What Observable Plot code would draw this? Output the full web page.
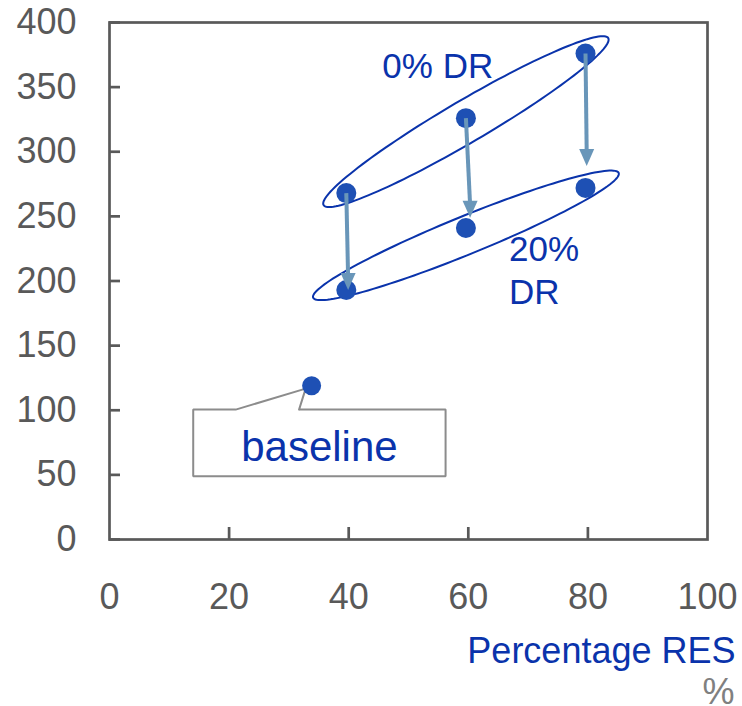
<!DOCTYPE html>
<html>
<head>
<meta charset="utf-8">
<script src="https://cdn.jsdelivr.net/npm/d3@7"></script>
<script src="https://cdn.jsdelivr.net/npm/@observablehq/plot@0.6"></script>
<style>
  html, body { margin: 0; padding: 0; background: #ffffff; }
  #chart { width: 742px; height: 706px; }
</style>
</head>
<body>
<div id="chart"></div>
<script>
// ---------- data ----------
const resLevels = [39.6, 59.6, 79.6];          // Percentage RES of the scenarios
const dr0 = [268, 326, 376];                    // 0% DR
const dr20 = [193, 241, 272];                   // 20% DR
const arrowX2 = [39.9, 60.3, 79.8];             // arrow tip x
const arrowTips = [193, 249, 289];              // arrow tip y
const baselinePoint = [{x: 33.8, y: 119}];
const xTicks = [0, 20, 40, 60, 80, 100];
const yTicks = [0, 50, 100, 150, 200, 250, 300, 350, 400];
const centeredLabels = [{text: "0% DR", x: 54.9, y: 365.7}];
const leftLabels = [
  {text: "20%", x: 66.8, y: 224.5},
  {text: "DR", x: 66.8, y: 190.5}
];
const calloutText = [{text: "baseline", x: 35.1, y: 70.9}];
const calloutOutline = [
  [31.7, 100.5], [56.2, 100.5], [56.2, 49], [14, 49], [14, 100.5],
  [21.1, 100.5], [32.8, 116.7], [31.7, 100.5]
];

// ---------- derived tables ----------
const upper = resLevels.map((x, i) => ({x, y: dr0[i]}));
const lower = resLevels.map((x, i) => ({x, y: dr20[i]}));
const arrows = resLevels.map((x, i) => ({x1: x, y1: dr0[i], x2: arrowX2[i], y2: arrowTips[i]}));
const centroid = pts => [{x: d3.mean(pts, d => d.x), y: d3.mean(pts, d => d.y)}];

// ---------- styles ----------
const axisGray = "#595959";
const dotBlue = "#1e50b4";
const lineBlue = "#0a33ab";
const arrowBlue = "#6996b9";
const font = "'Liberation Sans', Arial, Helvetica, sans-serif";

function ellipseSymbol(a, b, deg) {
  const t = deg * Math.PI / 180;
  return {
    draw(ctx) {
      const n = 144;
      for (let i = 0; i <= n; i++) {
        const p = 2 * Math.PI * i / n;
        const ex = a * Math.cos(p), ey = b * Math.sin(p);
        const x = ex * Math.cos(t) + ey * Math.sin(t);
        const y = -ex * Math.sin(t) + ey * Math.cos(t);
        if (i === 0) ctx.moveTo(x, y); else ctx.lineTo(x, y);
      }
      ctx.closePath();
    }
  };
}
const headSymbol = {
  draw(ctx) {
    ctx.moveTo(0, 0);
    ctx.lineTo(-7.5, -17);
    ctx.lineTo(7.5, -17);
    ctx.closePath();
  }
};

const chart = Plot.plot({
  width: 742,
  height: 706,
  marginLeft: 109,
  marginRight: 35,
  marginTop: 22,
  marginBottom: 167,
  style: {fontFamily: font, background: "#ffffff", overflow: "visible"},
  x: {domain: [0, 100]},
  y: {domain: [0, 400]},
  marks: [
    Plot.frame({stroke: axisGray, strokeWidth: 2.7}),
    // inward ticks
    Plot.axisY({ticks: yTicks, tickSize: -11, tickFormat: () => "", stroke: axisGray, strokeWidth: 2.7, label: null}),
    Plot.axisX({ticks: xTicks.slice(1, -1), tickSize: -12, tickFormat: () => "", stroke: axisGray, strokeWidth: 2.7, label: null}),
    // tick labels
    Plot.axisY({ticks: yTicks, tickSize: 0, tickPadding: 33, fontSize: 36, fill: axisGray, label: null}),
    Plot.axisX({ticks: xTicks, tickSize: 0, tickPadding: 44, fontSize: 36, fill: axisGray, label: null}),
    // group ellipses
    Plot.dot(centroid(upper), {x: "x", y: "y", symbol: ellipseSymbol(165, 21, 30.4), fill: "none", stroke: lineBlue, strokeWidth: 2}),
    Plot.dot(centroid(lower), {x: "x", y: "y", symbol: ellipseSymbol(165, 19, 22.2), fill: "none", stroke: lineBlue, strokeWidth: 2}),
    // callout
    Plot.line(calloutOutline, {x: d => d[0], y: d => d[1], stroke: "#8c8c8c", strokeWidth: 2, fill: "#ffffff", strokeLinejoin: "miter"}),
    // points
    Plot.dot(upper, {x: "x", y: "y", r: 10, fill: dotBlue}),
    Plot.dot(lower, {x: "x", y: "y", r: 10, fill: dotBlue}),
    Plot.dot(baselinePoint, {x: "x", y: "y", r: 9.5, fill: dotBlue}),
    // arrows
    Plot.link(arrows, {x1: "x1", y1: "y1", x2: "x2", y2: d => d.y2 + 10, stroke: arrowBlue, strokeWidth: 4, strokeLinecap: "butt"}),
    Plot.dot(arrows, {x: "x2", y: "y2", symbol: headSymbol, fill: arrowBlue, stroke: "none"}),
    // labels
    Plot.text(centeredLabels, {x: "x", y: "y", text: "text", fontSize: 35, fill: lineBlue, textAnchor: "middle", lineAnchor: "middle"}),
    Plot.text(leftLabels, {x: "x", y: "y", text: "text", fontSize: 35, fill: lineBlue, textAnchor: "start", lineAnchor: "middle"}),
    Plot.text(calloutText, {x: "x", y: "y", text: "text", fontSize: 42, fill: lineBlue, textAnchor: "middle", lineAnchor: "middle"}),
    Plot.text(["Percentage RES"], {frameAnchor: "bottom-right", dx: 28, dy: 112, fontSize: 36, fill: lineBlue, textAnchor: "end", lineAnchor: "middle"}),
    Plot.text(["%"], {frameAnchor: "bottom-right", dx: 27, dy: 153, fontSize: 36, fill: "#808080", textAnchor: "end", lineAnchor: "middle"})
  ]
});
document.getElementById("chart").appendChild(chart);
</script>
</body>
</html>
